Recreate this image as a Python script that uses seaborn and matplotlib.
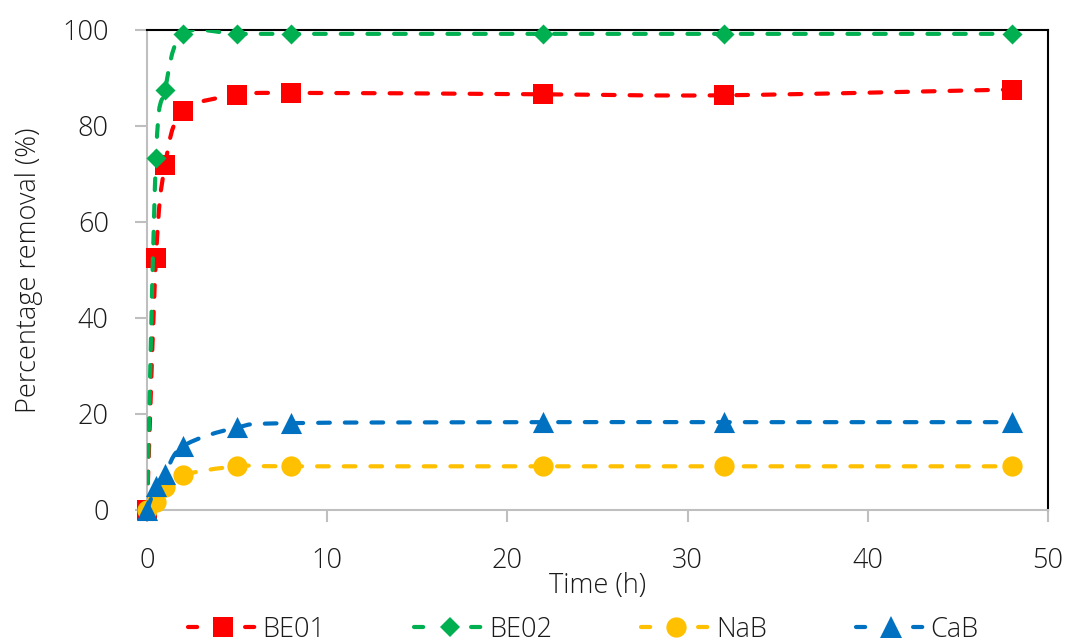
import numpy as np
import pandas as pd
import matplotlib
matplotlib.use("Agg")
import matplotlib.pyplot as plt
import seaborn as sns
from matplotlib.path import Path
from matplotlib.patches import PathPatch
from matplotlib.lines import Line2D

# ---------------- data ----------------
time_h = [0, 0.5, 1, 2, 5, 8, 22, 32, 48]
be01 = [0, 52.6, 71.8, 83.1, 86.4, 86.9, 86.6, 86.4, 87.6]
be02 = [0, 73.4, 87.6, 99.2, 99.2, 99.2, 99.2, 99.2, 99.2]
nab = [0, 1.6, 4.8, 7.3, 9.1, 9.1, 9.1, 9.1, 9.1]
cab = [0, 5.0, 7.5, 13.3, 17.2, 18.1, 18.3, 18.3, 18.3]
series_names = ["BE01", "BE02", "NaB", "CaB"]
x_ticks = [0, 10, 20, 30, 40, 50]
y_ticks = [0, 20, 40, 60, 80, 100]

colors = {"BE01": "#FF0000", "BE02": "#00B050", "NaB": "#FFC000", "CaB": "#0070C0"}
markers = {"BE01": "s", "BE02": "D", "NaB": "o", "CaB": "^"}
msize = {"BE01": 14.7, "BE02": 10.2, "NaB": 14.6, "CaB": 15.2}

df = pd.DataFrame({
    "Time": time_h * 4,
    "Removal": be01 + be02 + nab + cab,
    "Sample": sum([[n] * len(time_h) for n in series_names], []),
})

sns.set_theme(style="white")
plt.rcParams["font.family"] = ["Open Sans", "DejaVu Sans"]
TXT = "#1a1a1a"
FW = "light"
FS = 19.5

fig = plt.figure(figsize=(10.66, 6.42), dpi=100)
ax = fig.add_axes([147 / 1066, 1 - 510 / 642, (1048 - 147) / 1066, (510 - 30) / 642])


def smooth_path(xs, ys):
    """Excel-like smoothed line: cubic Bezier through the points."""
    p = np.column_stack([xs, ys]).astype(float)
    n = len(p)
    verts = [p[0]]
    codes = [Path.MOVETO]
    for i in range(n - 1):
        p0 = p[i - 1] if i > 0 else p[i]
        p1 = p[i]
        p2 = p[i + 1]
        p3 = p[i + 2] if i + 2 < n else p[i + 1]
        c1 = p1 + (p2 - p0) / 6.0
        c2 = p2 - (p3 - p1) / 6.0
        verts += [c1, c2, p2]
        codes += [Path.CURVE4] * 3
    return Path(verts, codes)


z = 2
for name in series_names:
    sub = df[df["Sample"] == name]
    patch = PathPatch(smooth_path(sub["Time"].values, sub["Removal"].values),
                      facecolor="none", edgecolor=colors[name], lw=3.0,
                      linestyle=(0, (2.8, 3.6)), capstyle="round", zorder=z)
    ax.add_patch(patch)
    sns.scatterplot(data=sub, x="Time", y="Removal", ax=ax,
                    color=colors[name], marker=markers[name],
                    s=msize[name] ** 2, linewidth=0, legend=False,
                    zorder=z + 1)
    z += 2

for coll in ax.collections:
    coll.set_clip_on(False)

ax.set_xlim(0, 50)
ax.set_ylim(0, 100)
ax.set_xticks(x_ticks)
ax.set_yticks(y_ticks)
ax.tick_params(axis="both", which="major", labelsize=FS, labelcolor=TXT,
               color="#BFBFBF", width=1.5, length=8.5, direction="out")
ax.tick_params(axis="y", pad=19)
ax.tick_params(axis="x", pad=18)
for lab in ax.get_xticklabels() + ax.get_yticklabels():
    lab.set_fontweight(FW)
ax.xaxis.set_ticks_position("bottom")
ax.yaxis.set_ticks_position("left")

for s in ["left", "bottom"]:
    ax.spines[s].set_color("#BFBFBF")
    ax.spines[s].set_linewidth(1.5)
for s in ["top", "right"]:
    ax.spines[s].set_color("black")
    ax.spines[s].set_linewidth(1.5)
    ax.spines[s].set_visible(True)

ax.set_xlabel("Time (h)", fontsize=FS, color=TXT, labelpad=-2, fontweight=FW)
ax.set_ylabel("Percentage removal (%)", fontsize=FS, color=TXT, labelpad=14,
              fontweight=FW)

handles = [Line2D([0], [0], color=colors[n], lw=3.0, linestyle=(0, (2.2, 11.5)),
                  dash_capstyle="round", marker=markers[n], markersize=msize[n],
                  markeredgewidth=0)
           for n in series_names]
leg = fig.legend(handles, series_names, loc="center", bbox_to_anchor=(0.547, 0.019),
                 ncol=4, frameon=False, handlelength=2.6,
                 handletextpad=0.15, columnspacing=3.3, numpoints=1,
                 labelcolor=TXT, borderaxespad=0, borderpad=0,
                 prop={"weight": FW, "size": FS})

fig.savefig("out.png", dpi=100, facecolor="white")
